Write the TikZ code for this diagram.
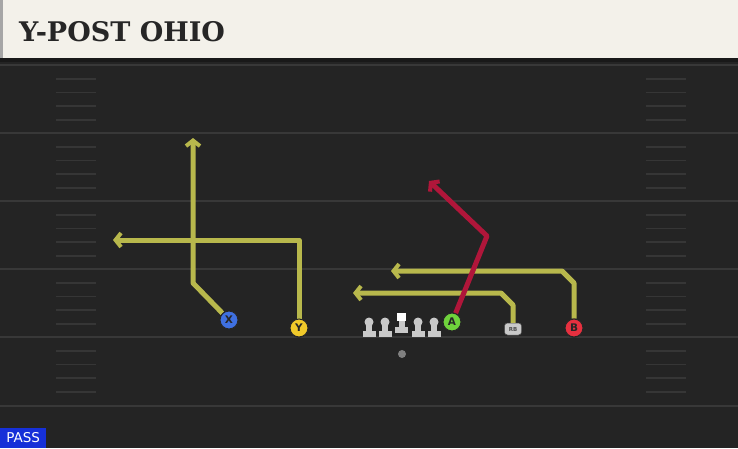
\documentclass[tikz,border=0pt]{standalone}
\usepackage{fontspec}
\usetikzlibrary{arrows.meta}
\newfontfamily\titlefont{DejaVu Serif}
\newfontfamily\lblfont{DejaVu Sans}
\definecolor{fieldbg}{HTML}{242424}
\definecolor{yardline}{HTML}{383838}
\definecolor{hashc}{HTML}{363636}
\definecolor{headerbg}{HTML}{F3F1EA}
\definecolor{rtyellow}{HTML}{B8B84C}
\definecolor{rtred}{HTML}{B0163A}
\definecolor{pblue}{HTML}{3F70E0}
\definecolor{pyellow}{HTML}{F0C92A}
\definecolor{pgreen}{HTML}{6FD23C}
\definecolor{pred}{HTML}{E6303F}
\definecolor{linegray}{HTML}{C9C9C9}
\definecolor{passblue}{HTML}{1630D8}
\tikzset{
  yard/.style={draw=yardline, line width=2pt},
  hashm/.style={draw=hashc, line width=1.3pt},
  route/.style={line width=5pt, draw=rtyellow, line join=round,
     -{Straight Barb[length=5.5pt,width=14pt,line width=4pt]}},
  redroute/.style={route, draw=rtred},
  player/.style={circle, draw=black!85, line width=1pt, minimum size=18pt, inner sep=0pt,
     font=\lblfont\bfseries\fontsize{10.5}{10.5}\selectfont, text=black!85},
  lman/.style={fill=linegray},
}
\begin{document}
\begin{tikzpicture}[x=1pt,y=-1pt]
\useasboundingbox (0,0) rectangle (738,448);
\fill[fieldbg] (0,0) rectangle (738,448);
% yard lines
\foreach \yy in {65,133,201,269,337,406} {\draw[yard] (0,\yy) -- (738,\yy);}
% hash marks
\foreach \yy in {65,133,201,269,337} {
  \foreach \dd in {14,27.5,41,55} {
    \draw[hashm] (56,\yy+\dd) -- (96,\yy+\dd);
    \draw[hashm] (646,\yy+\dd) -- (686,\yy+\dd);
  }
}
% header
\fill[black!90] (0,57) rectangle (738,62);
\fill[headerbg] (0,0) rectangle (738,58);
\fill[black!35] (0,0) rectangle (3,58);
\node[anchor=west, inner sep=0pt, text=black!85, font=\titlefont\bfseries\fontsize{27}{27}\selectfont] (title) at (19,32) {Y-POST OHIO};
% PASS label
\node[anchor=south west, fill=passblue, text=white, inner sep=0pt, minimum width=46pt, minimum height=20pt,
  font=\lblfont\fontsize{13.5}{13.5}\selectfont] (pass) at (0,448) {PASS};
% routes
\coordinate (xb) at (193,283);
\coordinate (xe) at (193,138);
\coordinate (yb) at (299,240);
\coordinate (ye) at (113,240);
\coordinate (bb1) at (574,283);
\coordinate (bb2) at (562,271);
\coordinate (be) at (391,271);
\coordinate (rb1) at (513,305);
\coordinate (rb2) at (501,293);
\coordinate (re) at (353,293);
\coordinate (ab) at (487,236);
\coordinate (ae) at (429,181);
% players
\node[player, fill=pblue] (X) at (229,320) {X};
\node[player, fill=pyellow] (Y) at (299,328) {Y};
\node[player, fill=pgreen] (A) at (452,322) {A};
\node[player, fill=pred] (B) at (574,328) {B};
\node[fill=linegray, draw=black!70, line width=0.5pt, rounded corners=3pt, minimum width=17pt, minimum height=12pt, inner sep=0pt,
  font=\lblfont\bfseries\fontsize{5.5}{5.5}\selectfont, text=black!70] (RB) at (513,329) {RB};
\draw[route] (X) -- (xb) -- (xe);
\draw[route] (Y) -- (yb) -- (ye);
\draw[route] (B) -- (bb1) -- (bb2) -- (be);
\draw[route] (RB) -- (rb1) -- (rb2) -- (re);
\draw[redroute] (A) -- (ab) -- (ae);
\node[player, fill=pblue] at (X) {X};
\node[player, fill=pyellow] at (Y) {Y};
\node[player, fill=pgreen] at (A) {A};
\node[player, fill=pred] at (B) {B};
% linemen
\foreach \xx/\nm in {369/lt,385/lg,418/rg,434/rt} {
  \fill[lman] (\xx-6.5,330.5) rectangle (\xx+6.5,336.5);
  \fill[lman] (\xx-3,322) rectangle (\xx+3,331);
  \node[circle, fill=linegray, minimum size=9pt, inner sep=0pt] (\nm) at (\xx,322) {};
}
\fill[lman] (395,327) rectangle (408,333);
\fill[lman] (398.5,320) rectangle (404.5,327);
\node[fill=white, minimum size=8.5pt, inner sep=0pt] (C) at (401.5,317) {};
% QB
\node[circle, fill=black!50, minimum size=8pt, inner sep=0pt] (QB) at (402,354) {};
\end{tikzpicture}
\end{document}
